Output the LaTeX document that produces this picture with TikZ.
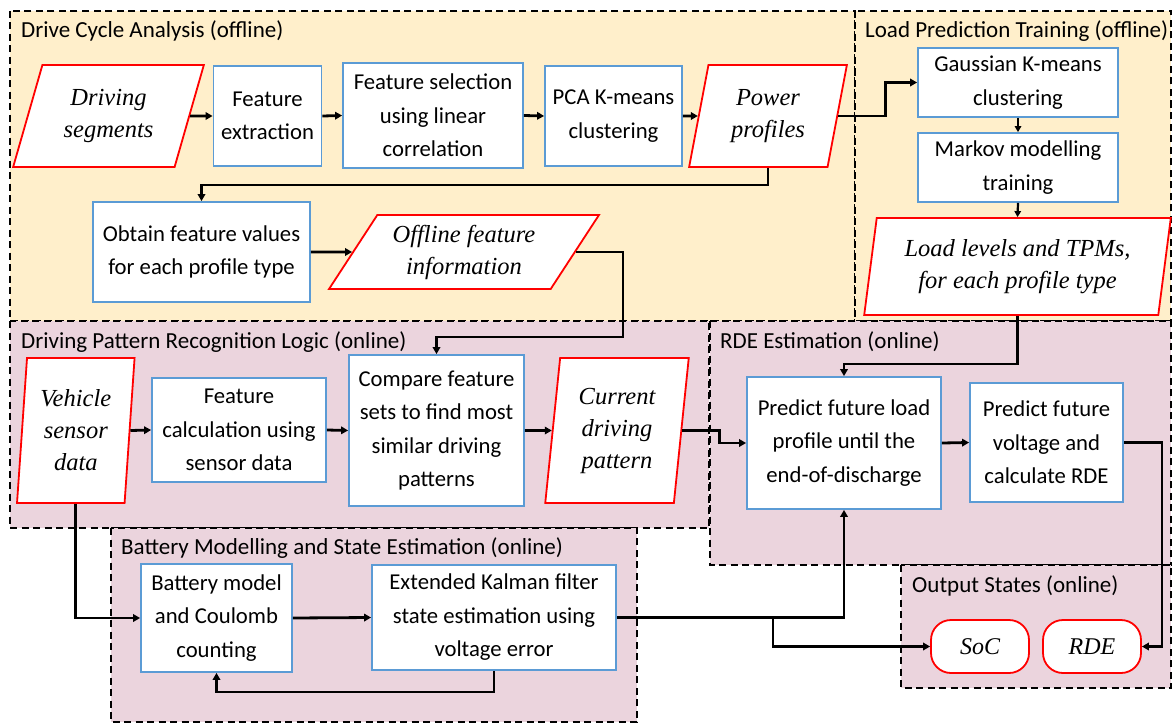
\documentclass[tikz,border=0pt]{standalone}
\usepackage{fontspec}
\setmainfont{Carlito}
\newfontfamily\tms{Liberation Serif}
\usetikzlibrary{arrows.meta,shapes.geometric}
\definecolor{yel}{HTML}{FFEFCB}
\definecolor{pnk}{HTML}{EBD4DD}
\definecolor{boxblue}{HTML}{5B9BD5}
\tikzset{
  region/.style={draw=black, dash pattern=on 7pt off 4.5pt, line width=2pt},
  rtitle/.style={anchor=west, inner sep=0pt, font=\fontsize{23}{26}\selectfont},
  bbox/.style={draw=boxblue, line width=1.8pt, fill=white, align=center, inner sep=0pt,
    font=\fontsize{22.7}{33.5}\selectfont},
  pgram/.style={trapezium, trapezium stretches=true, draw=red, line width=1.8pt, fill=white,
    align=center, inner sep=0pt, font=\tms\itshape\fontsize{24.5}{32}\selectfont},
  term/.style={draw=red, line width=1.8pt, fill=white, rounded corners=20pt, align=center,
    inner sep=0pt, minimum width=98pt, minimum height=53pt, font=\tms\itshape\fontsize{24}{28}\selectfont},
  arr/.style={-{Triangle[length=7pt,width=7.5pt]}, line width=2.8pt, line join=miter},
  thinarr/.style={-{Triangle[length=6pt,width=6.5pt]}, line width=2.2pt}
}
\begin{document}
\begin{tikzpicture}[x=1pt,y=-1pt]
\useasboundingbox (0,0) rectangle (1172,725);
% regions
\filldraw[region, fill=yel] (10,11) rectangle (855,321);
\filldraw[region, fill=yel] (855,11) rectangle (1171,321);
\filldraw[region, fill=pnk] (10,321) rectangle (709,528);
\filldraw[region, fill=pnk] (710,321) rectangle (1171,565);
\filldraw[region, fill=pnk] (111,528) rectangle (637,722);
\filldraw[region, fill=pnk] (901,565) rectangle (1171,688);
\node[rtitle] (t1) at (21,31) {Drive Cycle Analysis (offline)};
\node[rtitle] (t2) at (865,31) {Load Prediction Training (offline)};
\node[rtitle] (t3) at (21,342) {Driving Pattern Recognition Logic (online)};
\node[rtitle] (t4) at (720,342) {RDE Estimation (online)};
\node[rtitle] (t5) at (121,548) {Battery Modelling and State Estimation (online)};
\node[rtitle] (t6) at (912,586) {Output States (online)};
% nodes
\node[pgram, trapezium left angle=69.6, trapezium right angle=110.4, minimum width=191pt, minimum height=102pt] (segs) at (108.5,116) {Driving\\segments};
\node[bbox, minimum width=108pt, minimum height=100pt] (fext) at (267.5,116) {Feature\\extraction};
\node[bbox, minimum width=180pt, minimum height=105pt] (fsel) at (433,115.5) {Feature selection\\using linear\\correlation};
\node[bbox, minimum width=137pt, minimum height=100pt] (pca) at (613.5,116) {PCA K-means\\clustering};
\node[pgram, trapezium left angle=77.3, trapezium right angle=102.7, minimum width=158pt, minimum height=102pt] (power) at (768,116) {Power\\profiles};
\node[bbox, minimum width=200pt, minimum height=69pt] (gauss) at (1018,82.5) {Gaussian K-means\\clustering};
\node[bbox, minimum width=200pt, minimum height=69pt] (markov) at (1018,167.5) {Markov modelling\\training};
\node[pgram, trapezium left angle=79.5, trapezium right angle=100.5, minimum width=307pt, minimum height=97pt] (loadlv) at (1017.5,266.5) {Load levels and TPMs,\\for each profile type};
\node[bbox, minimum width=217pt, minimum height=100pt] (obtain) at (201.5,252) {Obtain feature values\\for each profile type};
\node[pgram, trapezium left angle=53.9, trapezium right angle=126.1, minimum width=270pt, minimum height=74pt] (offline) at (464,252) {Offline feature\\information};
\node[pgram, trapezium left angle=84.9, trapezium right angle=95.1, minimum width=118pt, minimum height=145pt] (vehicle) at (75.8,430.5) {Vehicle\\sensor\\data};
\node[bbox, minimum width=174pt, minimum height=104pt] (fcalc) at (239,430) {Feature\\calculation using\\sensor data};
\node[bbox, minimum width=175pt, minimum height=151pt] (compare) at (436.5,430.5) {Compare feature\\sets to find most\\similar driving\\patterns};
\node[pgram, trapezium left angle=83.3, trapezium right angle=96.7, minimum width=144pt, minimum height=145pt] (current) at (617,430.5) {Current\\driving\\pattern};
\node[bbox, minimum width=194pt, minimum height=132pt] (predload) at (844,443) {Predict future load\\profile until the\\end-of-discharge};
\node[bbox, minimum width=153pt, minimum height=119pt] (predvolt) at (1046.5,442.5) {Predict future\\voltage and\\calculate RDE};
\node[bbox, minimum width=151pt, minimum height=108pt] (battery) at (216.5,618) {Battery model\\and Coulomb\\counting};
\node[bbox, minimum width=244pt, minimum height=105pt] (ekf) at (494,617.5) {Extended Kalman filter\\state estimation using\\voltage error};
\node[term] (soc) at (980,646.5) {SoC};
\node[term] (rde) at (1092,646.5) {RDE};
% connectors
\draw[arr] (segs.east) -- (fext.west);
\draw[arr] (fext.east) -- (fsel.west);
\draw[arr] (fsel.east) -- (pca.west);
\draw[arr] (pca.east) -- (power.west);
\draw[arr] (power.east) -- ++(47.5,0) |- (gauss.west);
\draw[thinarr] (gauss.south) -- (markov.north);
\draw[thinarr] (markov.south) -- (loadlv.north);
\draw[arr] (power.south) -- ++(0,17) -| (obtain.north);
\draw[arr] (obtain.east) -- (offline.west);
\draw[arr] (offline.east) -- ++(47,0) -- ++(0,85) -| (compare.north);
\draw[arr] (vehicle.east) -- (fcalc.west);
\draw[arr] (fcalc.east) -- (compare.west);
\draw[arr] (compare.east) -- (current.west);
\draw[arr] (current.east) -- ++(37.5,0) |- (predload.west);
\draw[arr] (loadlv.south) -- ++(0,48) -| (predload.north);
\draw[arr] (predload.east) -- (predvolt.west);
\draw[arr] (predvolt.east) -- ++(38,0) |- (rde.east);
\draw[arr] (vehicle.south) |- (battery.west);
\draw[arr] (battery.east) -- (ekf.west);
\draw[arr] (ekf.south) -- ++(0,21) -| (battery.south);
\draw[arr] (ekf.east) -| (predload.south);
\coordinate (br) at (773,617.5);
\draw[arr] (br) |- (soc.west);
\end{tikzpicture}
\end{document}
